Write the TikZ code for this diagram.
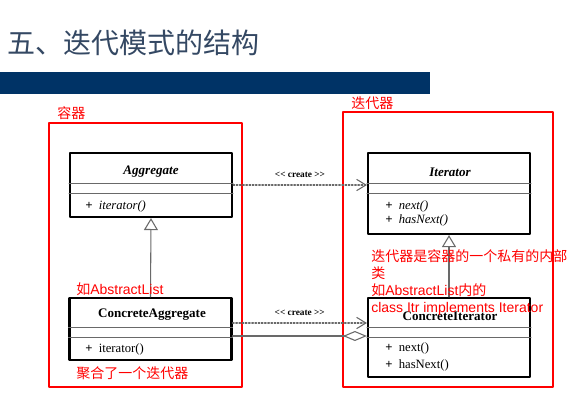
\documentclass[tikz,border=0pt]{standalone}
\usepackage{fontspec}
\setmainfont{Liberation Serif}
\newfontfamily\cjk{Noto Sans CJK SC}
\newfontfamily\latn{Liberation Sans}
\usetikzlibrary{arrows.meta}
\definecolor{titleblue}{RGB}{52,72,99}
\definecolor{barblue}{RGB}{0,51,102}
\definecolor{linegray}{RGB}{105,105,105}
\newcommand{\lt}[1]{{\latn #1}}

\begin{document}
\begin{tikzpicture}[x=0.75pt,y=-0.75pt,line cap=round,line join=round,
  classbox/.style={draw,line width=1.6pt,inner sep=0pt,minimum width=121.5pt},
  divider/.style={draw=linegray,line width=0.6pt},
  redbox/.style={draw=red,line width=1.5pt},
  note/.style={text=red,font=\cjk\fontsize{10.5}{12.75}\selectfont,inner sep=0pt,anchor=west,align=left},
  cname/.style={font=\bfseries\fontsize{9.8}{11}\selectfont,inner sep=0pt},
  member/.style={font=\fontsize{9.5}{11}\selectfont,inner sep=0pt,anchor=west},
  gen/.style={draw=linegray,line width=0.8pt,-{Triangle[open,length=9pt,width=10.5pt]}},
  create/.style={draw=linegray,line width=0.8pt,dash pattern=on 1.2pt off 1.2pt,-{Straight Barb[length=7pt,width=8.5pt]}},
  aggr/.style={draw=linegray,line width=0.8pt,-{Diamond[open,length=18pt,width=7.5pt]}},
  stereo/.style={font=\bfseries\fontsize{7}{8}\selectfont,inner sep=0pt}]
  \useasboundingbox (0,0) rectangle (578,410);
  % title and bar
  \node[anchor=west,inner sep=0pt,text=titleblue,font=\cjk\fontsize{21}{24}\selectfont] (title) at (7,43) {五、迭代模式的结构};
  \fill[barblue] (0,72) rectangle (430,94);

  % red frames
  \draw[redbox] (49,123) rectangle (242,387);
  \draw[redbox] (343,112) rectangle (553,387);
  \node[note] (lcont) at (57,113) {容器};
  \node[note] (liter) at (351,103) {迭代器};

  % classes
  \node[classbox,minimum height=48pt] (agg) at (151,185) {};
  \node[classbox,minimum height=60.75pt] (it) at (449,193.5) {};
  \node[classbox,minimum height=46.5pt] (cagg) at (150.5,329) {};
  \node[classbox,minimum height=59.25pt] (cit) at (449,337.5) {};
  \foreach \yy in {183,193} {
    \draw[divider] (agg.west |- 0,\yy) -- (agg.east |- 0,\yy);
    \draw[divider] (it.west |- 0,\yy) -- (it.east |- 0,\yy);
  }
  \foreach \yy in {327,337} {
    \draw[divider] (cagg.west |- 0,\yy) -- (cagg.east |- 0,\yy);
    \draw[divider] (cit.west |- 0,\yy) -- (cit.east |- 0,\yy);
  }

  \node[cname,font=\bfseries\itshape\fontsize{9.8}{11}\selectfont] (aggname) at (151,172) {Aggregate};
  \node[member,font=\itshape\fontsize{9.5}{11}\selectfont] (aggop) at (85,206) {\textbf{+}\ \ iterator()};
  \node[cname,font=\bfseries\itshape\fontsize{9.8}{11}\selectfont] (itname) at (450,172) {Iterator};
  \node[member,font=\itshape\fontsize{9.5}{11}\selectfont] (itop1) at (385,206) {\textbf{+}\ \ next()};
  \node[member,font=\itshape\fontsize{9.5}{11}\selectfont] (itop2) at (385,220) {\textbf{+}\ \ hasNext()};
  \node[cname] (caggname) at (152,315) {ConcreteAggregate};
  \node[member] (caggop) at (85,349) {\textbf{+}\ \ iterator()};
  \node[cname] (citname) at (450,316) {ConcreteIterator};
  \node[member] (citop1) at (385,348) {\textbf{+}\ \ next()};
  \node[member] (citop2) at (385,365) {\textbf{+}\ \ hasNext()};

  % relations
  \draw[gen] (cagg.north) -- (agg.south);
  \draw[gen] (cit.north) -- (it.south);
  \draw[create] (agg.east) -- (agg.east -| it.west)
    node[stereo,midway,above=5pt] (cr1) {<\kern0pt<\ create >\kern0pt>};
  \draw[create] ([yshift=4.5pt]cagg.east) -- ([yshift=4.5pt]cagg.east -| cit.west)
    node[stereo,midway,above=5pt] (cr2) {<\kern0pt<\ create >\kern0pt>};
  \draw[aggr] ([yshift=-5.25pt]cagg.east) -- ([yshift=-5.25pt]cagg.east -| cit.west);

  % red notes
  \node[note] (nabs) at (76,289) {如\lt{AbstractList}};
  \node[note] (nagg) at (76,373) {聚合了一个迭代器};
  \node[note,anchor=north west] (ninner) at (371,249) {迭代器是容器的一个私有的内部\\类\\如\lt{AbstractList}内的\\\lt{class Itr implements Iterator}};
\end{tikzpicture}
\end{document}
